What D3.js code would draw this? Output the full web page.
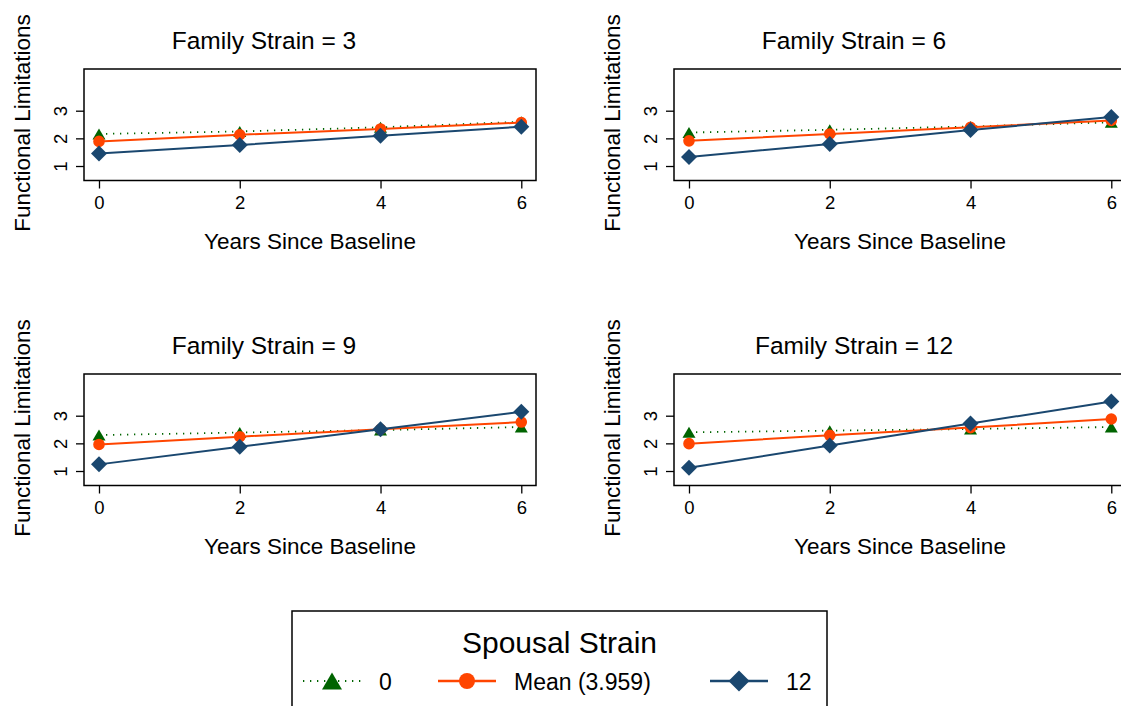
<!DOCTYPE html>
<html>
<head>
<meta charset="utf-8">
<script src="https://cdn.jsdelivr.net/npm/d3@7"></script>
<style>
    body { margin: 0; background: #fff; }
    svg { display: block; font-family: "Liberation Sans", Arial, Helvetica, sans-serif; }
</style>
</head>
<body>
<div id="chart"></div>
<script>
// data
const years = [0, 2, 4, 6];
const familyStrain = [3, 6, 9, 12];
const yTicks = [1, 2, 3];
const legendTitle = "Spousal Strain";
const legendLabels = ["0", "Mean (3.959)", "12"];
// one row per Family Strain panel (3, 6, 9, 12), one value per year
const spousal0 = [
    [2.16, 2.25, 2.40, 2.60],
    [2.21, 2.31, 2.43, 2.58],
    [2.30, 2.39, 2.48, 2.59],
    [2.40, 2.46, 2.52, 2.59]
];
const spousalMean = [
    [1.89, 2.13, 2.34, 2.57],
    [1.91, 2.16, 2.40, 2.65],
    [1.96, 2.24, 2.51, 2.77],
    [1.99, 2.29, 2.57, 2.88]
];
const spousal12 = [
    [1.45, 1.76, 2.09, 2.42],
    [1.33, 1.80, 2.30, 2.77],
    [1.24, 1.88, 2.51, 3.14],
    [1.12, 1.92, 2.72, 3.51]
];

function PanelChart() {
    const width = 1121, height = 706;
    const panelW = 590, panelH = 305;
    const box = {left: 84, right: 536, top: 69, bottom: 180.5};

    const series = [
        {label: legendLabels[0], values: spousal0, color: "#006400", dash: "1.3,5.7", lineW: 1.8, marker: "triangle"},
        {label: legendLabels[1], values: spousalMean, color: "#ff4500", dash: null, lineW: 2, marker: "circle"},
        {label: legendLabels[2], values: spousal12, color: "#1a476f", dash: null, lineW: 2, marker: "diamond"}
    ];
    const plotSize = {triangle: {w: 13, h: 11}, circle: {r: 5.8}, diamond: {r: 8}};
    const legendSize = {triangle: {w: 20, h: 17}, circle: {r: 8}, diamond: {r: 10.5}};

    const x = d3.scaleLinear().domain([-0.213, 6.209]).range([box.left, box.right]);
    const y = d3.scaleLinear().domain([0.476, 4.508]).range([box.bottom, box.top]);

    function markerPath(type, s) {
        if (type === "triangle") {
            return `M0,${-s.h / 2}L${s.w / 2},${s.h / 2}L${-s.w / 2},${s.h / 2}Z`;
        }
        if (type === "diamond") {
            return `M0,${-s.r}L${s.r},0L0,${s.r}L${-s.r},0Z`;
        }
        return d3.symbol(d3.symbolCircle, Math.PI * s.r * s.r)();
    }

    const svg = d3.select("#chart").append("svg")
        .attr("width", width)
        .attr("height", height);

    familyStrain.forEach((fs, p) => {
        const ox = (p % 2) * panelW, oy = Math.floor(p / 2) * panelH;
        const g = svg.append("g").attr("transform", `translate(${ox},${oy})`);

        g.append("text")
            .attr("x", 264).attr("y", 48.5)
            .attr("text-anchor", "middle")
            .style("font-size", "24.5px")
            .text(`Family Strain = ${fs}`);

        g.append("rect")
            .attr("x", box.left).attr("y", box.top)
            .attr("width", box.right - box.left)
            .attr("height", box.bottom - box.top)
            .attr("fill", "#fff")
            .attr("stroke", "#000")
            .attr("stroke-width", 1.5);

        const xAxis = g.append("g")
            .attr("transform", `translate(0,${box.bottom})`)
            .call(d3.axisBottom(x).tickValues(years).tickFormat(d3.format("d"))
                .tickSize(8).tickPadding(7));
        xAxis.select(".domain").remove();
        xAxis.selectAll("line").attr("stroke", "#000").attr("stroke-width", 1.3);
        xAxis.selectAll("text").attr("fill", "#000").style("font-size", "18.5px")
            .style("font-family", "inherit");

        const yAxis = g.append("g")
            .attr("transform", `translate(${box.left},0)`)
            .call(d3.axisLeft(y).tickValues(yTicks).tickFormat(d3.format("d")).tickSize(8));
        yAxis.select(".domain").remove();
        yAxis.selectAll("line").attr("stroke", "#000").attr("stroke-width", 1.3);
        yAxis.selectAll("text")
            .attr("fill", "#000")
            .attr("x", null).attr("dy", null)
            .attr("text-anchor", "middle")
            .attr("transform", "translate(-17.5,0) rotate(-90)")
            .style("font-size", "18.5px")
            .style("font-family", "inherit");

        g.append("text")
            .attr("x", (box.left + box.right) / 2).attr("y", 249)
            .attr("text-anchor", "middle")
            .style("font-size", "22.5px")
            .text("Years Since Baseline");

        g.append("text")
            .attr("transform", "translate(30,123) rotate(-90)")
            .attr("text-anchor", "middle")
            .style("font-size", "22.5px")
            .text("Functional Limitations");

        const line = d3.line().x((d, i) => x(years[i])).y(d => y(d));

        for (let s of series) {
            const vals = s.values[p];
            g.append("path")
                .attr("d", line(vals))
                .attr("fill", "none")
                .attr("stroke", s.color)
                .attr("stroke-width", s.lineW)
                .attr("stroke-dasharray", s.dash);
            g.selectAll(null)
                .data(vals)
                .join("path")
                .attr("transform", (d, i) => `translate(${x(years[i])},${y(d)})`)
                .attr("d", markerPath(s.marker, plotSize[s.marker]))
                .attr("fill", s.color);
        }
    });

    // legend
    const lg = svg.append("g");
    lg.append("rect")
        .attr("x", 292).attr("y", 611)
        .attr("width", 535).attr("height", 120)
        .attr("fill", "#fff")
        .attr("stroke", "#000")
        .attr("stroke-width", 1.5);
    lg.append("text")
        .attr("x", 559.5).attr("y", 653)
        .attr("text-anchor", "middle")
        .style("font-size", "30px")
        .text(legendTitle);

    const itemX = [303, 438, 710];
    const itemY = 681;
    series.forEach((s, i) => {
        const item = lg.append("g").attr("transform", `translate(${itemX[i]},${itemY})`);
        item.append("line")
            .attr("x1", 0).attr("x2", 58)
            .attr("stroke", s.color)
            .attr("stroke-width", s.lineW + 0.3)
            .attr("stroke-dasharray", s.dash);
        item.append("path")
            .attr("transform", "translate(29,0)")
            .attr("d", markerPath(s.marker, legendSize[s.marker]))
            .attr("fill", s.color);
        item.append("text")
            .attr("x", 76).attr("y", 8.5)
            .style("font-size", "23px")
            .text(s.label);
    });
}

PanelChart();
</script>
</body>
</html>
